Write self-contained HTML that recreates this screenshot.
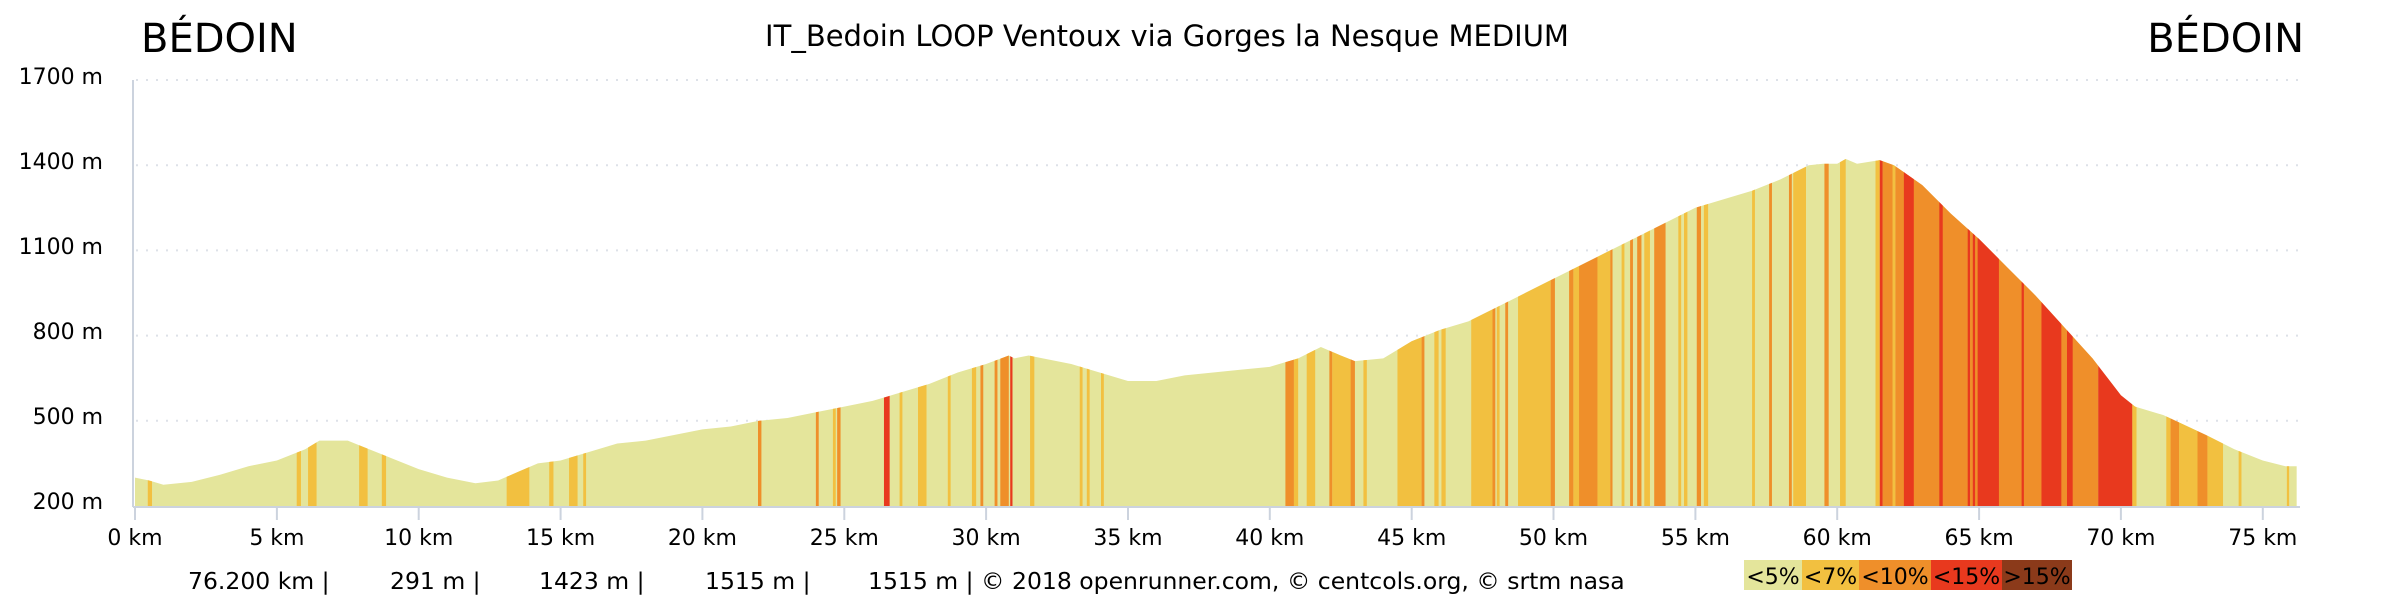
<!DOCTYPE html>
<html><head><meta charset="utf-8"><style>
html,body{margin:0;padding:0;background:#fff;}
svg{display:block;font-family:"DejaVu Sans","Liberation Sans",sans-serif;}
</style></head><body>
<svg width="2400" height="600" viewBox="0 0 2400 600" xmlns="http://www.w3.org/2000/svg">
<text x="141" y="52" font-size="40" fill="#000">BÉDOIN</text>
<text x="2304" y="52" font-size="40" fill="#000" text-anchor="end">BÉDOIN</text>
<text x="1167" y="46" font-size="29" fill="#000" text-anchor="middle">IT_Bedoin LOOP Ventoux via Gorges la Nesque MEDIUM</text>
<g stroke="#dde1e8" stroke-width="2" stroke-dasharray="2,8">
<line x1="136" y1="80" x2="2300" y2="80"/><line x1="136" y1="165.2" x2="2300" y2="165.2"/>
<line x1="136" y1="250.4" x2="2300" y2="250.4"/><line x1="136" y1="335.6" x2="2300" y2="335.6"/>
<line x1="136" y1="420.8" x2="2300" y2="420.8"/>
</g>
<g font-size="22" fill="#000" text-anchor="end">
<text x="103" y="84">1700 m</text><text x="103" y="169">1400 m</text><text x="103" y="254">1100 m</text>
<text x="103" y="339">800 m</text><text x="103" y="424">500 m</text><text x="103" y="509">200 m</text>
</g>
<defs><clipPath id="cp"><polygon points="0,0 0,100 0.5,90 1,75 2,85 3,110 4,140 5,160 6,200 6.5,230 7.5,230 8,210 9,170 10,130 11,100 12,80 12.8,90 13.5,120 14.2,150 15,160 16,190 17,220 18,230 19,250 20,270 21,280 22,300 23,310 24,330 25,350 26,370 27,400 28,430 29,470 30,500 30.8,530 31,520 31.5,530 32,520 33,500 34,470 35,440 36,440 37,460 38,470 39,480 40,490 41,520 41.8,560 42.5,530 43,510 44,520 45,580 46,620 47,650 48,700 49,750 50,800 51,850 52,900 53,950 54,1000 55,1050 56,1080 57,1110 58,1150 59,1200 59.5,1205 60,1205 60.3,1222 60.7,1205 61.5,1218 62,1200 63,1130 64,1030 65,940 66,840 67,740 68,630 69,520 70,390 70.5,350 71.5,320 73,250 74,200 75,160 75.8,140 76.2,140 76.2,0"/></clipPath></defs>
<g transform="translate(135,506) scale(28.37,-0.284)">
<g clip-path="url(#cp)">
<rect x="0" y="0" width="76.2" height="1500" fill="#e4e59b"/>
<g fill="#f2c040">
<rect x="0.45" width="0.15" height="1500"/><rect x="5.7" width="0.15" height="1500"/><rect x="6.1" width="0.3" height="1500"/>
<rect x="7.9" width="0.3" height="1500"/><rect x="8.7" width="0.15" height="1500"/><rect x="13.1" width="0.8" height="1500"/>
<rect x="14.6" width="0.15" height="1500"/><rect x="15.3" width="0.3" height="1500"/><rect x="15.8" width="0.1" height="1500"/>
<rect x="24.6" width="0.1" height="1500"/><rect x="26.95" width="0.1" height="1500"/><rect x="27.6" width="0.3" height="1500"/>
<rect x="28.65" width="0.1" height="1500"/><rect x="29.5" width="0.15" height="1500"/><rect x="31.55" width="0.15" height="1500"/>
<rect x="33.3" width="0.1" height="1500"/><rect x="33.55" width="0.1" height="1500"/><rect x="34.05" width="0.1" height="1500"/>
<rect x="40.85" width="0.15" height="1500"/><rect x="41.3" width="0.3" height="1500"/><rect x="42.2" width="0.7" height="1500"/>
<rect x="43.3" width="0.12" height="1500"/><rect x="44.5" width="0.85" height="1500"/><rect x="45.8" width="0.15" height="1500"/>
<rect x="46.05" width="0.15" height="1500"/><rect x="47.1" width="0.75" height="1500"/><rect x="48.0" width="0.1" height="1500"/>
<rect x="48.75" width="1.15" height="1500"/><rect x="50.7" width="0.2" height="1500"/><rect x="51.55" width="0.45" height="1500"/>
<rect x="52.4" width="0.1" height="1500"/><rect x="53.2" width="0.2" height="1500"/><rect x="54.4" width="0.1" height="1500"/>
<rect x="54.6" width="0.12" height="1500"/><rect x="55.3" width="0.15" height="1500"/><rect x="57.0" width="0.1" height="1500"/>
<rect x="58.45" width="0.45" height="1500"/><rect x="60.1" width="0.2" height="1500"/><rect x="61.35" width="0.15" height="1500"/>
<rect x="61.95" width="0.1" height="1500"/><rect x="70.4" width="0.15" height="1500"/><rect x="71.6" width="0.15" height="1500"/>
<rect x="72.05" width="0.65" height="1500"/><rect x="73.05" width="0.55" height="1500"/><rect x="74.15" width="0.1" height="1500"/>
<rect x="75.85" width="0.08" height="1500"/>
</g>
<g fill="#ef8f2a">
<rect x="21.96" width="0.12" height="1500"/><rect x="24.0" width="0.1" height="1500"/><rect x="24.75" width="0.12" height="1500"/>
<rect x="29.8" width="0.1" height="1500"/><rect x="30.3" width="0.1" height="1500"/><rect x="30.5" width="0.3" height="1500"/>
<rect x="40.55" width="0.3" height="1500"/><rect x="42.1" width="0.1" height="1500"/><rect x="42.85" width="0.15" height="1500"/>
<rect x="45.35" width="0.1" height="1500"/><rect x="47.85" width="0.1" height="1500"/><rect x="48.3" width="0.1" height="1500"/>
<rect x="49.9" width="0.15" height="1500"/><rect x="50.55" width="0.15" height="1500"/><rect x="50.9" width="0.65" height="1500"/>
<rect x="52.0" width="0.08" height="1500"/><rect x="52.7" width="0.1" height="1500"/><rect x="52.95" width="0.15" height="1500"/>
<rect x="53.55" width="0.4" height="1500"/><rect x="55.05" width="0.15" height="1500"/><rect x="57.6" width="0.1" height="1500"/>
<rect x="58.3" width="0.1" height="1500"/><rect x="59.55" width="0.15" height="1500"/><rect x="61.6" width="0.35" height="1500"/>
<rect x="62.05" width="7.15" height="1500"/><rect x="71.75" width="0.3" height="1500"/><rect x="72.7" width="0.35" height="1500"/>
</g>
<g fill="#e8391e">
<rect x="26.4" width="0.2" height="1500"/><rect x="30.85" width="0.08" height="1500"/><rect x="61.5" width="0.1" height="1500"/>
<rect x="62.35" width="0.35" height="1500"/><rect x="63.6" width="0.12" height="1500"/><rect x="64.6" width="0.08" height="1500"/>
<rect x="64.78" width="0.08" height="1500"/><rect x="64.95" width="0.75" height="1500"/><rect x="66.5" width="0.08" height="1500"/>
<rect x="67.2" width="0.7" height="1500"/><rect x="68.1" width="0.2" height="1500"/><rect x="69.2" width="1.2" height="1500"/>
</g>
</g>
</g>
<line x1="133" y1="80" x2="133" y2="507" stroke="#ccd3de" stroke-width="2"/>
<line x1="133" y1="507" x2="2300" y2="507" stroke="#ccd3de" stroke-width="2"/>
<g stroke="#ccd3de" stroke-width="2">
<line x1="135" y1="507" x2="135" y2="520"/><line x1="276.9" y1="507" x2="276.9" y2="520"/><line x1="418.7" y1="507" x2="418.7" y2="520"/>
<line x1="560.6" y1="507" x2="560.6" y2="520"/><line x1="702.4" y1="507" x2="702.4" y2="520"/><line x1="844.3" y1="507" x2="844.3" y2="520"/>
<line x1="986.1" y1="507" x2="986.1" y2="520"/><line x1="1128" y1="507" x2="1128" y2="520"/><line x1="1269.8" y1="507" x2="1269.8" y2="520"/>
<line x1="1411.7" y1="507" x2="1411.7" y2="520"/><line x1="1553.5" y1="507" x2="1553.5" y2="520"/><line x1="1695.4" y1="507" x2="1695.4" y2="520"/>
<line x1="1837.2" y1="507" x2="1837.2" y2="520"/><line x1="1979.1" y1="507" x2="1979.1" y2="520"/><line x1="2120.9" y1="507" x2="2120.9" y2="520"/>
<line x1="2262.8" y1="507" x2="2262.8" y2="520"/>
</g>
<g font-size="22" fill="#000" text-anchor="middle">
<text x="135" y="545">0 km</text><text x="276.9" y="545">5 km</text><text x="418.7" y="545">10 km</text><text x="560.6" y="545">15 km</text>
<text x="702.4" y="545">20 km</text><text x="844.3" y="545">25 km</text><text x="986.1" y="545">30 km</text><text x="1128" y="545">35 km</text>
<text x="1269.8" y="545">40 km</text><text x="1411.7" y="545">45 km</text><text x="1553.5" y="545">50 km</text><text x="1695.4" y="545">55 km</text>
<text x="1837.2" y="545">60 km</text><text x="1979.1" y="545">65 km</text><text x="2120.9" y="545">70 km</text><text x="2262.8" y="545">75 km</text>
</g>
<g font-size="23.5" fill="#000">
<text x="188" y="589">76.200 km |</text><text x="390" y="589">291 m |</text><text x="539" y="589">1423 m |</text>
<text x="705" y="589">1515 m |</text><text x="868" y="589">1515 m | © 2018 openrunner.com, © centcols.org, © srtm nasa</text>
</g>
<rect x="1744" y="560" width="58" height="30" fill="#e4e59b"/>
<rect x="1802" y="560" width="57" height="30" fill="#f2c040"/>
<rect x="1859" y="560" width="72" height="30" fill="#ef8f2a"/>
<rect x="1931" y="560" width="71" height="30" fill="#e8391e"/>
<rect x="2002" y="560" width="70" height="30" fill="#8b3a1a"/>
<g font-size="22" fill="#000" text-anchor="middle">
<text x="1773" y="584">&lt;5%</text><text x="1830.5" y="584">&lt;7%</text><text x="1895" y="584">&lt;10%</text>
<text x="1966.5" y="584">&lt;15%</text><text x="2037" y="584">&gt;15%</text>
</g>
</svg>
</body></html>
